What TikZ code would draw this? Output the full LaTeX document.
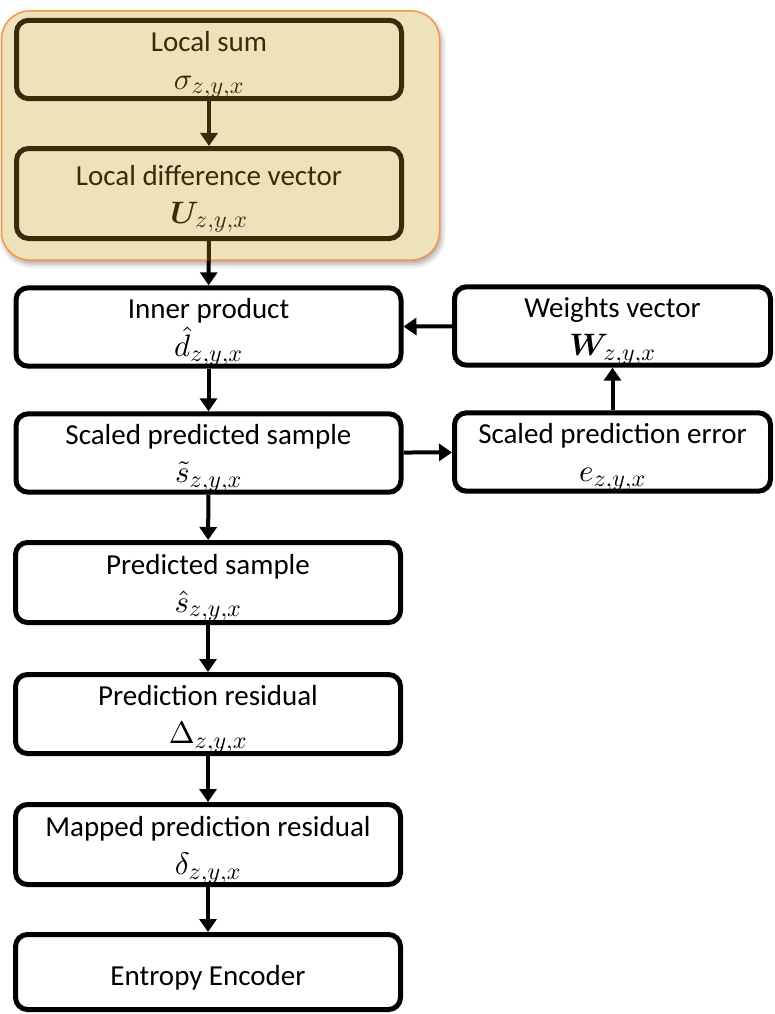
\documentclass[tikz,border=0pt]{standalone}
\usepackage{amsmath,bm}
\usepackage{fontspec}
\setmainfont{Carlito}
% scalable Computer Modern math shapes, so formulas follow the text size
\DeclareFontShape{OML}{cmm}{m}{it}{<->cmmi10}{}
\DeclareFontShape{OML}{cmm}{b}{it}{<->cmmib10}{}
\DeclareFontShape{OMS}{cmsy}{m}{n}{<->cmsy10}{}
\DeclareFontShape{OT1}{cmr}{m}{n}{<->cmr10}{}
\DeclareFontShape{OT1}{cmr}{bx}{n}{<->cmbx10}{}
\DeclareMathSizes{31}{31}{24}{18}
\newcommand\symb[1]{{\fontsize{31}{35}\selectfont$#1$}}
\newcommand\topstrut{\rule{0pt}{31pt}}
\usetikzlibrary{arrows.meta,shadows.blur}
\definecolor{groupfill}{HTML}{EEE2BB}
\definecolor{grouporange}{HTML}{F79646}
\definecolor{inkbrown}{HTML}{3A2C0B}
\tikzset{
  stage/.style={draw, line width=5pt, rounded corners=12pt, fill=white,
    align=center, inner sep=0pt, font=\fontsize{29}{35}\selectfont},
  leftcol/.style={minimum width=385pt},
  rightcol/.style={minimum width=316pt},
  grouped/.style={draw=inkbrown, fill=groupfill, text=inkbrown},
  flow/.style={line width=4pt, -{Triangle[width=17pt,length=13pt]}},
}
\begin{document}
\begin{tikzpicture}[x=1pt,y=-1pt]
\useasboundingbox (0,0) rectangle (775,1014);

% neighbourhood group
\node[draw=grouporange, line width=1.5pt, fill=groupfill, rounded corners=28pt,
  minimum width=438pt, minimum height=249pt, inner sep=0pt,
  blur shadow={shadow xshift=2pt, shadow yshift=-4pt, shadow blur radius=5pt, shadow opacity=35}]
  (grp) at (220.5,135.5) {};

% main chain
\node[stage, leftcol, grouped, minimum height=74pt] (ls) at (209,59.5) {\topstrut Local sum\\[3pt]\symb{\sigma_{z,y,x}}};
\node[stage, leftcol, grouped, minimum height=90pt] (ld) at (209,193.5) {\topstrut Local difference vector\\[3pt]\symb{\bm{U}_{z,y,x}}};
\node[stage, leftcol, minimum height=75pt] (ip) at (208.5,327) {\topstrut Inner product\\[3pt]\symb{\hat{d}_{z,y,x}}};
\node[stage, leftcol, minimum height=77pt] (sp) at (208.5,453) {\topstrut Scaled predicted sample\\[3pt]\symb{\tilde{s}_{z,y,x}}};
\node[stage, leftcol, minimum height=80pt] (ps) at (208,582.5) {\topstrut Predicted sample\\[3pt]\symb{\hat{s}_{z,y,x}}};
\node[stage, leftcol, minimum height=79pt] (pr) at (208,714) {\topstrut Prediction residual\\[3pt]\symb{\Delta_{z,y,x}}};
\node[stage, leftcol, minimum height=80pt] (mp) at (208,844.5) {\topstrut Mapped prediction residual\\[3pt]\symb{\delta_{z,y,x}}};
\node[stage, leftcol, minimum height=75pt] (ee) at (208,972) {\topstrut Entropy Encoder};

% weight update loop
\node[stage, rightcol, minimum height=73pt] (wv) at (612.5,326) {\topstrut Weights vector\\[3pt]\symb{\bm{W}_{z,y,x}}};
\node[stage, rightcol, minimum height=75pt] (se) at (612.5,452) {\topstrut Scaled prediction error\\[3pt]\symb{e_{z,y,x}}};

% connectors
\draw[flow, inkbrown] (ls) -- (ld);
\draw[flow] (ld) -- (ip);
\draw[inkbrown, line width=4pt] (ld.south) -- (ld.south |- grp.south);
\draw[flow] (ip) -- (sp);
\draw[flow] (sp) -- (ps);
\draw[flow] (ps) -- (pr);
\draw[flow] (pr) -- (mp);
\draw[flow] (mp) -- (ee);
\draw[flow] (sp) -- (se);
\draw[flow] (se) -- (wv);
\draw[flow] (wv) -- (ip);
\end{tikzpicture}
\end{document}
